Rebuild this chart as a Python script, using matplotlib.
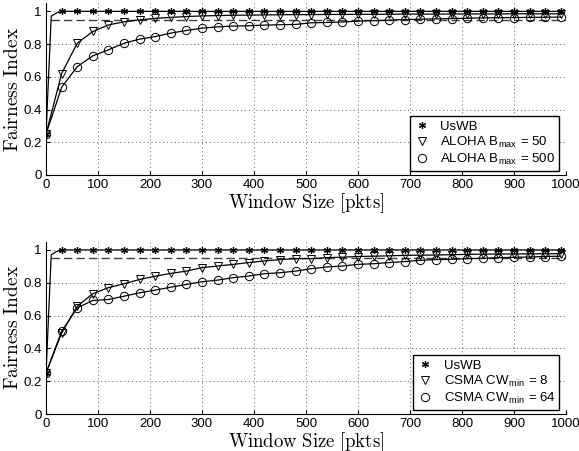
import matplotlib
matplotlib.use('Agg')
import matplotlib.pyplot as plt

plt.rcParams['font.family'] = ['Liberation Sans', 'DejaVu Sans']
plt.rcParams['mathtext.fontset'] = 'cm'

# window sizes where markers sit (every 30 pkts)
win = list(range(0, 1000, 30))

# UsWB curve (extra early points for the steep jump)
uswb_x = [0, 10, 20] + win[1:]
uswb_y = [0.25, 0.97, 0.99] + [1.0] * (len(win) - 1)

# threshold line
ref_x = [10, 1000]
ref_y = [0.95, 0.95]

# top panel: ALOHA
aloha50 = [0.25, 0.62, 0.805, 0.877, 0.917, 0.936, 0.948, 0.957, 0.963, 0.968,
           0.972, 0.974, 0.976, 0.977, 0.978, 0.979, 0.980, 0.980, 0.981, 0.981,
           0.982, 0.982, 0.982, 0.983, 0.983, 0.983, 0.984, 0.984, 0.984, 0.984,
           0.985, 0.985, 0.985, 0.985]
aloha500 = [0.25, 0.536, 0.662, 0.728, 0.765, 0.805, 0.83, 0.846, 0.867, 0.883,
            0.897, 0.905, 0.91, 0.912, 0.916, 0.918, 0.92, 0.93, 0.932, 0.935,
            0.94, 0.943, 0.946, 0.95, 0.952, 0.954, 0.956, 0.958, 0.96, 0.961,
            0.962, 0.963, 0.964, 0.965]

# bottom panel: CSMA
csma8 = [0.25, 0.494, 0.657, 0.733, 0.77, 0.794, 0.82, 0.84, 0.857, 0.871,
         0.892, 0.902, 0.912, 0.923, 0.933, 0.941, 0.947, 0.947, 0.953, 0.956,
         0.96, 0.962, 0.964, 0.967, 0.968, 0.969, 0.971, 0.973, 0.974, 0.975,
         0.976, 0.976, 0.977, 0.977]
csma64 = [0.25, 0.504, 0.647, 0.692, 0.698, 0.718, 0.739, 0.755, 0.773, 0.79,
          0.806, 0.816, 0.831, 0.841, 0.855, 0.861, 0.871, 0.886, 0.896, 0.902,
          0.912, 0.916, 0.923, 0.929, 0.937, 0.941, 0.943, 0.947, 0.949, 0.953,
          0.955, 0.957, 0.96, 0.962]

panels = [
    ('ALOHA B$_{\\mathregular{max}}$ = 50', aloha50,
     'ALOHA B$_{\\mathregular{max}}$ = 500', aloha500),
    ('CSMA CW$_{\\mathregular{min}}$ = 8', csma8,
     'CSMA CW$_{\\mathregular{min}}$ = 64', csma64),
]

fig = plt.figure(figsize=(5.79, 4.51), dpi=100)
rects = [[0.0795, 0.612, 0.898, 0.381], [0.0795, 0.082, 0.898, 0.382]]

star = (6, 2, 0)
for rect, (lab1, y1, lab2, y2) in zip(rects, panels):
    ax = fig.add_axes(rect)
    ax.plot(ref_x, ref_y, color='0.25', lw=1.0, dashes=(6, 3))
    ax.plot(uswb_x, uswb_y, color='k', lw=0.9)
    ax.plot(win[1:], uswb_y[3:], ls='none', marker=star, ms=5, mec='k', mew=0.9)
    ax.plot(win, y1, color='k', lw=0.9, marker='v', ms=6, mfc='none',
            mec='k', mew=0.7)
    ax.plot(win, y2, color='k', lw=0.9, marker='o', ms=6, mfc='none',
            mec='k', mew=0.7)
    ax.scatter([0], [0.25], marker=star, s=25, color='k', lw=0.9, zorder=5)

    ax.set_xlim(0, 1000)
    ax.set_ylim(0, 1.05)
    ax.set_xticks(range(0, 1001, 100))
    ax.set_yticks([0, 0.2, 0.4, 0.6, 0.8, 1])
    ax.set_yticklabels(['0', '0.2', '0.4', '0.6', '0.8', '1'])
    ax.tick_params(labelsize=9.5, direction='in', length=3, width=0.8, pad=3)
    ax.grid(True, ls=(0, (1, 3)), color='0.35', lw=0.7)
    ax.spines['top'].set_visible(False)
    ax.spines['right'].set_visible(False)
    ax.set_xlabel(r'$\mathrm{Window\ Size\ [pkts]}$', fontsize=13.5, labelpad=0)
    ax.set_ylabel(r'$\mathrm{Fairness\ Index}$', fontsize=14, labelpad=1)

    handles = [plt.Line2D([], [], ls='none', marker=star, ms=5, mec='k', mew=0.9),
               plt.Line2D([], [], ls='none', marker='v', ms=6, mfc='none', mec='k', mew=0.7),
               plt.Line2D([], [], ls='none', marker='o', ms=6, mfc='none', mec='k', mew=0.7)]
    leg = ax.legend(handles, ['UsWB', lab1, lab2], loc='lower right',
                    fontsize=9.5, frameon=True, fancybox=False, edgecolor='k',
                    handlelength=1.2, borderaxespad=0.3, labelspacing=0.15,
                    handletextpad=0.8, borderpad=0.3, framealpha=1,
                    bbox_to_anchor=(0.995, 0.0))
    leg.get_frame().set_linewidth(1.0)

fig.savefig('out.png', dpi=100)
